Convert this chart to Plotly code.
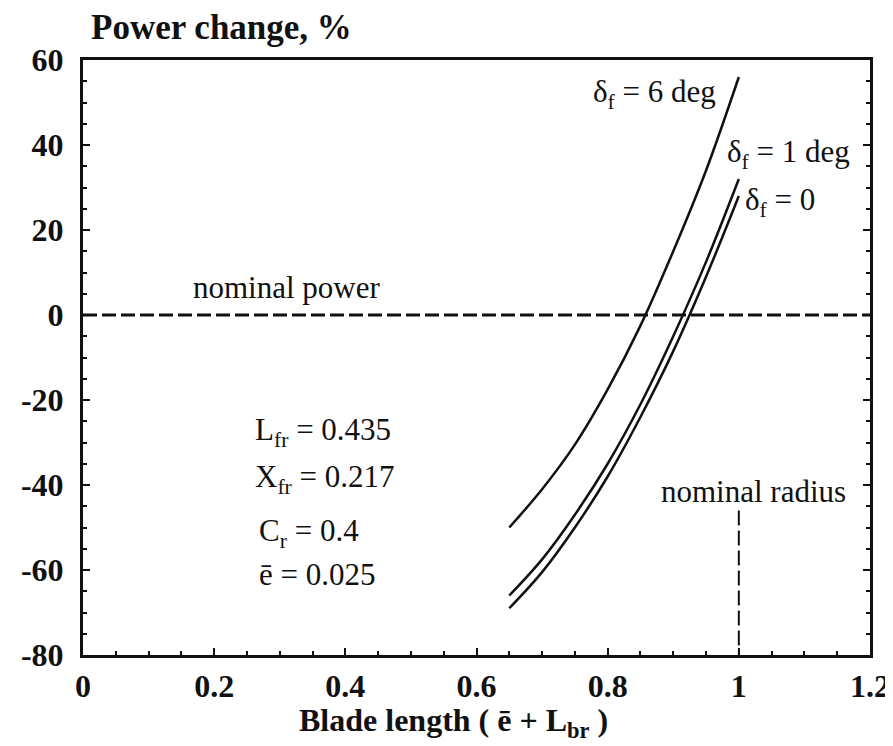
import plotly.graph_objects as go

# ---- data ----
blade_length = [0.65, 0.70, 0.75, 0.80, 0.85, 0.90, 0.95, 1.00]
power_df6 = [-50, -41, -30.5, -17.5, -2.5, 15, 34, 56]
power_df1 = [-66, -57.5, -47, -35, -21, -5, 12.5, 32]
power_df0 = [-69, -60.5, -50, -38, -24, -8.5, 9, 28]

nominal_power_x = [0, 1.2]
nominal_power_y = [0, 0]
nominal_radius_x = [1.0, 1.0]
nominal_radius_y = [-46, -80]

x_ticks = [0, 0.2, 0.4, 0.6, 0.8, 1, 1.2]
x_tick_text = ["0", "0.2", "0.4", "0.6", "0.8", "1", "1.2"]
y_ticks = [60, 40, 20, 0, -20, -40, -60, -80]
y_tick_text = ["60", "40", "20", "0", "-20", "-40", "-60", "-80"]

params = ["L<sub>fr</sub> = 0.435", "X<sub>fr</sub> = 0.217", "C<sub>r</sub> = 0.4", "ē = 0.025"]
params_x = [0.259, 0.259, 0.265, 0.265]
params_y = [-27.5, -38.5, -51.2, -61]

FONT = "Liberation Serif"
BLACK = "#111111"

fig = go.Figure()
for ys in (power_df6, power_df1, power_df0):
    fig.add_trace(go.Scatter(x=blade_length, y=ys, mode="lines",
                             line=dict(color=BLACK, width=2.5, shape="spline"),
                             showlegend=False, hoverinfo="skip"))
fig.add_trace(go.Scatter(x=nominal_power_x, y=nominal_power_y, mode="lines",
                         line=dict(color=BLACK, width=3, dash="14px,5px"),
                         showlegend=False, hoverinfo="skip"))
fig.add_trace(go.Scatter(x=nominal_radius_x, y=nominal_radius_y, mode="lines",
                         line=dict(color=BLACK, width=2, dash="15px,5px"),
                         showlegend=False, hoverinfo="skip"))

ann_font = dict(family=FONT, size=31, color=BLACK)
annotations = [
    dict(x=0.968, y=52, text="δ<sub>f</sub> = 6 deg", xanchor="right", yanchor="middle"),
    dict(x=0.979, y=38, text="δ<sub>f</sub> = 1 deg", xanchor="left", yanchor="middle"),
    dict(x=1.006, y=26.5, text="δ<sub>f</sub> = 0", xanchor="left", yanchor="middle"),
    dict(x=0.31, y=6.5, text="nominal power", xanchor="center", yanchor="middle"),
    dict(x=1.022, y=-41.6, text="nominal radius", xanchor="center", yanchor="middle"),
]
for t, xv, yv in zip(params, params_x, params_y):
    annotations.append(dict(x=xv, y=yv, text=t, xanchor="left", yanchor="middle"))
for a in annotations:
    a.update(xref="x", yref="y", showarrow=False, font=ann_font)

annotations.append(dict(x=0.008, y=1.0, xref="paper", yref="paper", yshift=11,
                        text="<b>Power change, %</b>", showarrow=False,
                        xanchor="left", yanchor="bottom",
                        font=dict(family=FONT, size=35, color=BLACK)))
annotations.append(dict(x=0.471, y=0, xref="paper", yref="paper", yshift=-45,
                        text="<b>Blade length ( ē + L<sub>br</sub> )</b>", showarrow=False,
                        xanchor="center", yanchor="top",
                        font=dict(family=FONT, size=32, color=BLACK)))

axis_common = dict(showgrid=False, zeroline=False, showline=True, linecolor=BLACK,
                   linewidth=3, ticks="inside", ticklen=7, tickwidth=2,
                   tickcolor=BLACK,
                   tickfont=dict(family=FONT, size=32, color=BLACK, weight="bold"))

fig.update_layout(
    width=893, height=746,
    margin=dict(l=75, r=31, t=52, b=99),
    paper_bgcolor="white", plot_bgcolor="white",
    xaxis=dict(range=[0, 1.2], tickvals=x_ticks, ticktext=x_tick_text, mirror=True,
               minor=dict(dtick=0.05, ticks="inside", ticklen=4, tickcolor=BLACK, tickwidth=1.5),
               ticklabelstandoff=1, **axis_common),
    yaxis=dict(range=[-80, 60], tickvals=y_ticks, ticktext=y_tick_text, mirror="ticks",
               minor=dict(dtick=5, ticks="inside", ticklen=4, tickcolor=BLACK, tickwidth=1.5),
               ticklabelstandoff=10, **axis_common),
    annotations=annotations,
)

fig.write_html("out.html")
